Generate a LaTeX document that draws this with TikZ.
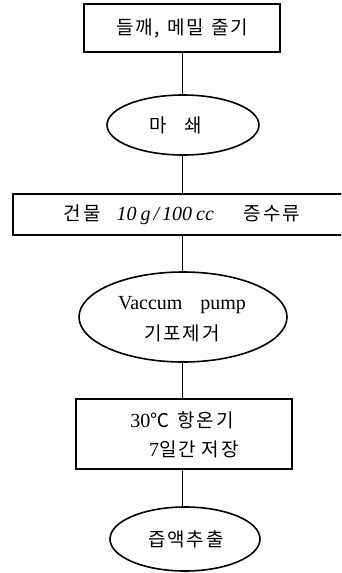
\documentclass[tikz,border=0pt]{standalone}
\usepackage{fontspec}
\setmainfont{Liberation Serif}
\newfontfamily\kr{Noto Sans CJK KR}[LetterSpace=10]
\newcommand\krt[1]{{\kr\fontsize{19}{23}\selectfont #1}}
\usetikzlibrary{shapes.geometric}
\begin{document}
\begin{tikzpicture}[x=1pt,y=-1pt,
  frame/.style={draw,line width=1.6pt,inner sep=0pt,rectangle},
  oval/.style={draw,line width=1.6pt,inner sep=0pt,ellipse},
  link/.style={line width=1.3pt},
  lbl/.style={font=\fontsize{20}{23}\selectfont,align=center,inner sep=0pt}]
\useasboundingbox (0,0) rectangle (341,573);
\clip (0,0) rectangle (341,573);
\node[frame,minimum width=196pt,minimum height=48pt] (b1) at (182,28) {};
\node[lbl] (t1) at (182,28) {\krt{들깨,\hspace{7pt}메밀\hspace{7pt}줄기}};
\node[oval,minimum width=152pt,minimum height=60pt] (e1) at (183,125) {};
\node[lbl] (t2) at (176,125) {\krt{마\hspace{18pt}쇄}};
\node[frame,minimum width=339pt,minimum height=41pt] (b3) at (182.5,214.5) {};
\node[lbl] (t3) at (182,215) {\krt{건물}\hspace{16pt}{\itshape 10\hspace{4pt}g\hspace{3pt}/\hspace{3pt}100\hspace{4pt}cc}\hspace{30pt}\krt{증수류}};
\node[oval,minimum width=208pt,minimum height=90pt] (e2) at (183,317) {};
\node[lbl] (t4) at (182,319) {Vaccum\hspace{18pt}pump\\[8pt]\krt{기포제거}};
\node[frame,minimum width=216pt,minimum height=70pt] (b4) at (184,434) {};
\node[lbl] (t5) at (182,435) {30\krt{℃\hspace{8pt}항온기}\\[6pt]\hspace{1.2em}7\krt{일간\hspace{6pt}저장}};
\node[oval,minimum width=150pt,minimum height=64pt] (e3) at (185,539) {};
\node[lbl] (t6) at (186,539) {\krt{즙액추출}};
\draw[link] (b1.south -| 182.5,0) -- (e1.north -| 182.5,0);
\draw[link] (e1.south -| 182.5,0) -- (b3.north -| 182.5,0);
\draw[link] (b3.south -| 182.5,0) -- (e2.north -| 182.5,0);
\draw[link] (e2.south -| 182.5,0) -- (b4.north -| 182.5,0);
\draw[link] (b4.south -| 182.5,0) -- (e3.north -| 182.5,0);
\end{tikzpicture}
\end{document}
